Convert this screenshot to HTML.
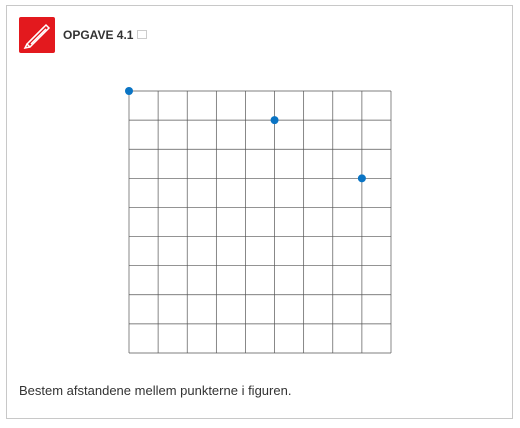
<!DOCTYPE html>
<html><head><meta charset="utf-8"><style>
body{margin:0;background:#fff;font-family:"Liberation Sans",sans-serif;}
#frame{position:absolute;left:6px;top:5px;width:505px;height:412px;border:1px solid #c8c8c8;}
#icon{position:absolute;left:19px;top:17px;width:36px;height:36px;background:#e3191e;border-radius:2px;}
#title{position:absolute;left:63px;top:28px;font-size:12px;font-weight:bold;color:#333;}
#badge{position:absolute;left:137px;top:30px;width:8px;height:7px;border:1px solid #ccc;}
#caption{position:absolute;left:19px;top:383px;font-size:13px;color:#333;}
</style></head><body>
<div id="frame"></div>
<div id="icon">
<svg width="36" height="36"><g stroke="#fff" stroke-width="1.5" fill="none"><path d="M8 27 L27 8 L30 11 L11 30 Z"/><path d="M10 25 L25 10 M12 27 L27 12"/><path d="M8 27 L6 31 L11 30"/></g></svg></div>
<div id="title">OPGAVE 4.1</div>
<div id="badge"></div>
<svg id="chart" width="520" height="428" style="position:absolute;left:0;top:0"></svg>
<div id="caption">Bestem afstandene mellem punkterne i figuren.</div>
<script>
const xs=[0,5,8];
const ys=[9,8,6];
const gridN=9;
const svg=document.getElementById('chart');
const x0=129,y0=353,step=(391-129)/9;
const X=v=>x0+v*step, Y=v=>y0-v*step;
const NS='http://www.w3.org/2000/svg';
for(let i=0;i<=gridN;i++){
 for(const d of [[X(i),Y(0),X(i),Y(gridN)],[X(0),Y(i),X(gridN),Y(i)]]){
  const l=document.createElementNS(NS,'line');
  l.setAttribute('x1',d[0]);l.setAttribute('y1',d[1]);l.setAttribute('x2',d[2]);l.setAttribute('y2',d[3]);
  l.setAttribute('stroke','#555');l.setAttribute('stroke-width','0.7');
  
  
  svg.appendChild(l);
 }
}
xs.forEach((v,i)=>{
 const c=document.createElementNS(NS,'circle');
 c.setAttribute('cx',X(v));c.setAttribute('cy',Y(ys[i]));c.setAttribute('r',4);c.setAttribute('fill','#0a74c4');
 
 
 svg.appendChild(c);
});
</script>
</body></html>
